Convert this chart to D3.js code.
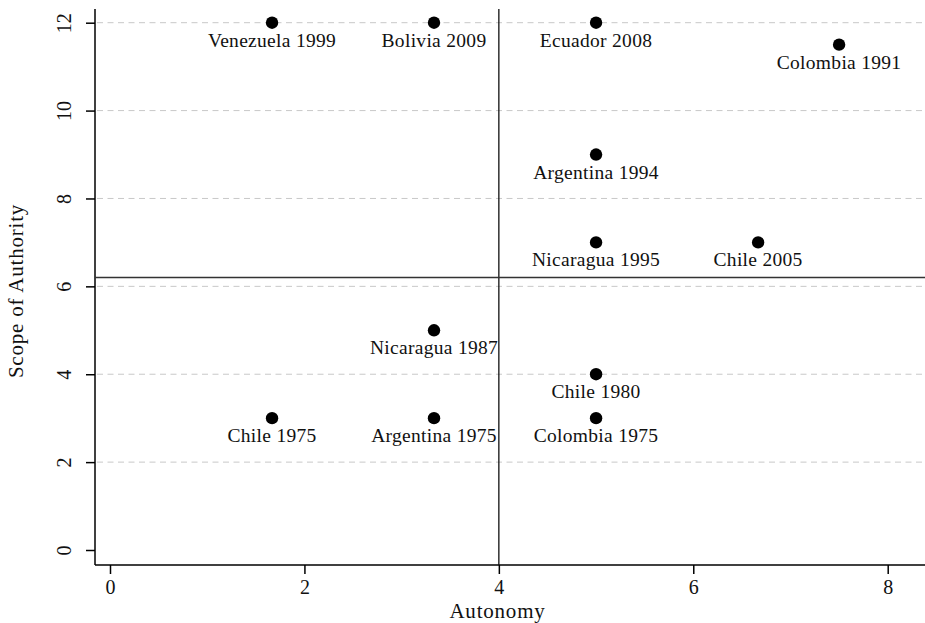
<!DOCTYPE html>
<html>
<head>
<meta charset="utf-8">
<script src="https://cdn.jsdelivr.net/npm/d3@7"></script>
<style>
  body { margin: 0; background: #fff; }
  svg { display: block; font-family: "Liberation Serif", "DejaVu Serif", serif; }
</style>
</head>
<body>
<svg class="chart" width="925" height="623"></svg>
<script>
const labels = ["Venezuela 1999", "Bolivia 2009", "Ecuador 2008", "Colombia 1991",
  "Argentina 1994", "Nicaragua 1995", "Chile 2005", "Nicaragua 1987",
  "Chile 1980", "Chile 1975", "Argentina 1975", "Colombia 1975"];
const autonomy = [1.667, 3.333, 5, 7.5, 5, 5, 6.667, 3.333, 5, 1.667, 3.333, 5];
const scope = [12, 12, 12, 11.5, 9, 7, 7, 5, 4, 3, 3, 3];
const xTicks = [0, 2, 4, 6, 8];
const yTicks = [0, 2, 4, 6, 8, 10, 12];
const xCut = 4;
const yCut = 6.2;

scatterChart();

function scatterChart() {
  const points = labels.map((d, i) => ({ label: d, x: autonomy[i], y: scope[i] }));

  const svg = d3.select(".chart");
  const plot = { left: 95, right: 925, top: 9, bottom: 565 };

  const x = d3.scaleLinear().domain([0, 8]).range([110, 887.7]);
  const y = d3.scaleLinear().domain([0, 12]).range([550, 22.7]);

  // grid
  svg.append("g")
    .selectAll("line")
    .data(yTicks.filter(d => d > 0))
    .join("line")
    .attr("x1", plot.left + 2)
    .attr("x2", plot.right)
    .attr("y1", d => y(d))
    .attr("y2", d => y(d))
    .attr("stroke", "#c8c8c8")
    .attr("stroke-width", 1)
    .attr("stroke-dasharray", "6,4.5");

  // y axis
  svg.append("g")
    .attr("transform", `translate(${plot.left},0)`)
    .call(d3.axisLeft(y).tickValues(yTicks).tickSize(9))
    .call(g => g.select(".domain").attr("d", `M0,${plot.top}V${plot.bottom}`).attr("stroke-width", 1.5))
    .call(g => g.selectAll(".tick line").attr("stroke-width", 1.5))
    .call(g => g.selectAll(".tick text")
      .attr("font-size", 20)
      .attr("font-family", "Liberation Serif")
      .attr("fill", "#111")
      .attr("text-anchor", "middle")
      .attr("dy", null)
      .attr("x", null)
      .attr("y", null)
      .attr("transform", "translate(-31,0) rotate(-90)")
      .attr("dominant-baseline", "central"));

  // x axis
  svg.append("g")
    .attr("transform", `translate(0,${plot.bottom})`)
    .call(d3.axisBottom(x).tickValues(xTicks).tickSize(9).tickPadding(6))
    .call(g => g.select(".domain").attr("d", `M${plot.left},0H${plot.right}`).attr("stroke-width", 1.5))
    .call(g => g.selectAll(".tick line").attr("stroke-width", 1.5))
    .call(g => g.selectAll(".tick text")
      .attr("font-size", 20)
      .attr("font-family", "Liberation Serif")
      .attr("fill", "#111"));

  // cut lines
  svg.append("line")
    .attr("x1", x(xCut)).attr("x2", x(xCut))
    .attr("y1", plot.top).attr("y2", plot.bottom)
    .attr("stroke", "#111").attr("stroke-width", 1.3);
  svg.append("line")
    .attr("x1", plot.left).attr("x2", plot.right)
    .attr("y1", y(yCut)).attr("y2", y(yCut))
    .attr("stroke", "#333").attr("stroke-width", 1.6);

  // points
  svg.append("g")
    .selectAll("circle")
    .data(points)
    .join("circle")
    .attr("cx", d => x(d.x))
    .attr("cy", d => y(d.y))
    .attr("r", 6.2)
    .attr("fill", "#000");

  svg.append("g")
    .selectAll("text")
    .data(points)
    .join("text")
    .attr("x", d => x(d.x))
    .attr("y", d => y(d.y) + 24)
    .attr("text-anchor", "middle")
    .attr("font-size", 19.5)
    .attr("letter-spacing", 0.3)
    .attr("fill", "#111")
    .text(d => d.label);

  // axis titles
  svg.append("text")
    .attr("x", 497.5)
    .attr("y", 618)
    .attr("text-anchor", "middle")
    .attr("font-size", 21)
    .attr("letter-spacing", 0.8)
    .attr("fill", "#111")
    .text("Autonomy");

  svg.append("text")
    .attr("transform", `translate(23,291) rotate(-90)`)
    .attr("text-anchor", "middle")
    .attr("font-size", 21)
    .attr("letter-spacing", 0.8)
    .attr("fill", "#111")
    .text("Scope of Authority");
}
</script>
</body>
</html>
